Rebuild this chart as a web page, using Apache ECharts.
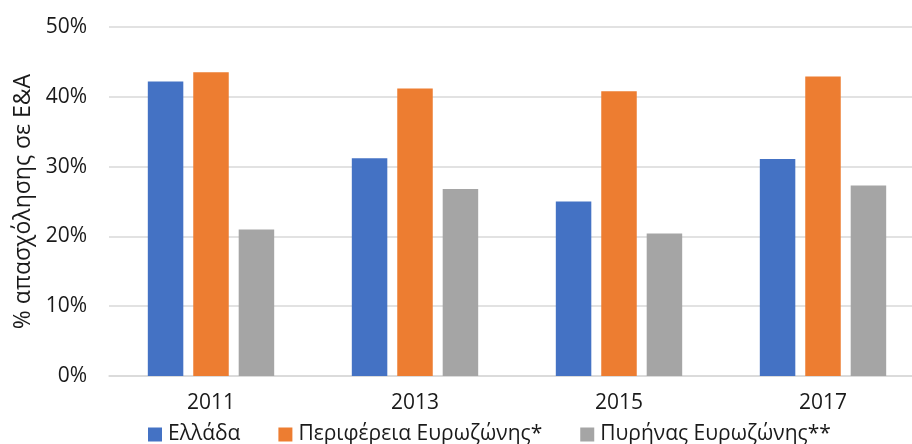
<!DOCTYPE html>
<html>
<head>
<meta charset="utf-8">
<script src="https://cdn.jsdelivr.net/npm/echarts@6/dist/echarts.min.js"></script>
<style>html,body{margin:0;padding:0;background:#fff;overflow:hidden}#c{width:925px;height:444px}</style>
</head>
<body>
<div id="c"></div>
<script>
const categories = ['2011', '2013', '2015', '2017'];
const greece = [42.2, 31.2, 25.0, 31.1];
const periphery = [43.5, 41.2, 40.8, 42.9];
const core = [21.0, 26.8, 20.4, 27.3];
const seriesNames = ['Ελλάδα', 'Περιφέρεια Ευρωζώνης*', 'Πυρήνας Ευρωζώνης**'];
const yTicks = [0, 10, 20, 30, 40, 50];

const font = 'Open Sans';
const textColor = '#1a1a1a';
const chart = echarts.init(document.getElementById('c'), null, {renderer: 'canvas'});
const mk = (name, data, color) => ({
  name, type: 'bar', data, barWidth: 35.5, barGap: '28%',
  itemStyle: {color}, emphasis: {disabled: true}
});
chart.setOption({
  animation: false,
  textStyle: {fontFamily: font},
  grid: {left: 109, right: 0, top: 27, bottom: 68, containLabel: false},
  legend: {
    left: 143, top: 419, itemWidth: 14, itemHeight: 14, itemGap: 38,
    icon: 'rect',
    textStyle: {fontFamily: font, fontSize: 21, color: textColor, padding: [0, 0, 0, 1]},
    data: seriesNames
  },
  xAxis: {
    type: 'category', data: categories,
    axisLine: {show: true, lineStyle: {color: '#d9d9d9', width: 1.5}},
    axisTick: {show: false},
    axisLabel: {fontFamily: font, fontSize: 21, color: textColor, margin: 17}
  },
  yAxis: {
    type: 'value', min: yTicks[0], max: yTicks[yTicks.length - 1], interval: 10,
    name: '% απασχόλησης σε Ε&Α', nameLocation: 'middle', nameGap: 74, nameRotate: 90,
    nameTextStyle: {fontFamily: font, fontSize: 23, color: textColor},
    axisLine: {show: false}, axisTick: {show: false},
    axisLabel: {fontFamily: font, fontSize: 21, color: textColor, margin: 22, formatter: v => v + '%'},
    splitLine: {lineStyle: {color: '#d9d9d9', width: 1.5}}
  },
  series: [
    mk(seriesNames[0], greece, '#4472C4'),
    mk(seriesNames[1], periphery, '#ED7D31'),
    mk(seriesNames[2], core, '#A5A5A5')
  ]
});
</script>
</body>
</html>
